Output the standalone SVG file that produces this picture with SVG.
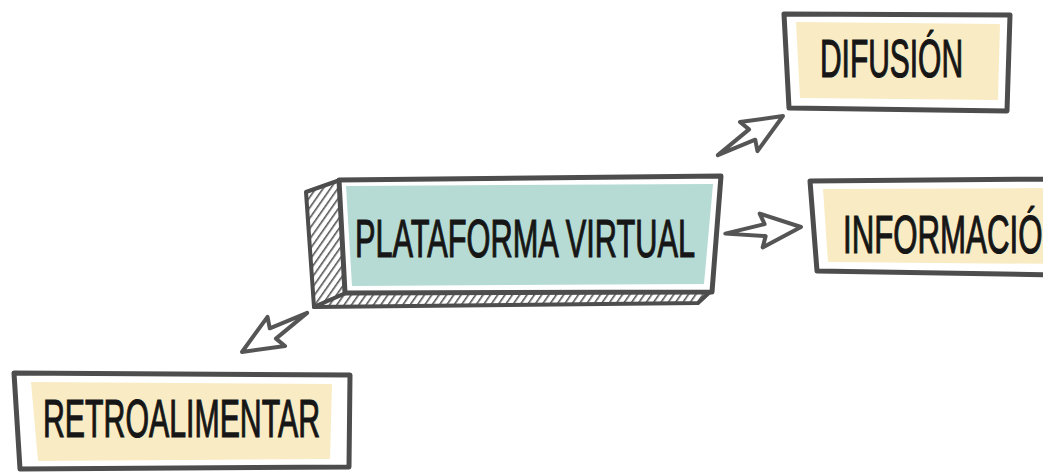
<svg xmlns="http://www.w3.org/2000/svg" width="1043" height="474" viewBox="0 0 1043 474">
<defs>
<style>
.frame{fill:#ffffff;stroke:#4d4d4d;stroke-width:5;stroke-linejoin:round}
.yel{fill:#f9ebc3}
.teal{fill:#b5dbd4}
.lbl{font-family:"Liberation Sans","DejaVu Sans",sans-serif;font-size:54px;fill:#161616;stroke:#161616;stroke-width:1.2}
.arr{fill:#ffffff;stroke:#555555;stroke-width:4;stroke-linejoin:round}
.hatchface{fill:url(#hatch);stroke:#4d4d4d;stroke-width:4;stroke-linejoin:round}
</style>
<pattern id="hatch" patternUnits="userSpaceOnUse" width="6" height="6" patternTransform="rotate(35)">
<rect width="6" height="6" fill="#ffffff"/>
<line x1="0" y1="0" x2="0" y2="6" stroke="#555555" stroke-width="3.2"/>
</pattern>
<path id="arrowShape" d="M-76,0 L-36,-6 L-40,-17 L0,0 L-40,17 L-36,6 Z"/>
</defs>

<g id="connectors">
<use href="#arrowShape" class="arr" transform="translate(801,227) rotate(-5)"/>
<use href="#arrowShape" class="arr" transform="translate(783,116) rotate(-31)"/>
<use href="#arrowShape" class="arr" transform="translate(242,352) rotate(149)"/>
</g>

<g id="plataforma">
<polygon class="hatchface" points="306,192 340,180 346,293 314,307"/>
<polygon class="hatchface" points="314,307 346,293 712,290 698,303"/>
<polygon class="frame" points="339,180 721,176 712,292 345,293"/>
<polygon class="teal" points="346,186 713,184 704,284 352,286"/>
<text class="lbl" x="355" y="257" textLength="340" lengthAdjust="spacingAndGlyphs">PLATAFORMA VIRTUAL</text>
</g>

<g id="difusion">
<polygon class="frame" points="784,14 1010,15 1007,111 789,108"/>
<polygon class="yel" points="796,22 1000,24 998,100 800,98"/>
<text class="lbl" x="820" y="77" textLength="143" lengthAdjust="spacingAndGlyphs">DIFUSIÓN</text>
</g>

<g id="informacion">
<polygon class="frame" points="810,181 1060,179 1060,275 817,271"/>
<polygon class="yel" points="823,189 1060,188 1060,264 828,262"/>
<text class="lbl" x="843" y="253" textLength="222" lengthAdjust="spacingAndGlyphs">INFORMACIÓN</text>
</g>

<g id="retroalimentar">
<polygon class="frame" points="14,373 350,375 349,467 20,469"/>
<polygon class="yel" points="31,382 332,384 330,459 38,461"/>
<text class="lbl" x="43" y="437" textLength="277" lengthAdjust="spacingAndGlyphs">RETROALIMENTAR</text>
</g>
</svg>
